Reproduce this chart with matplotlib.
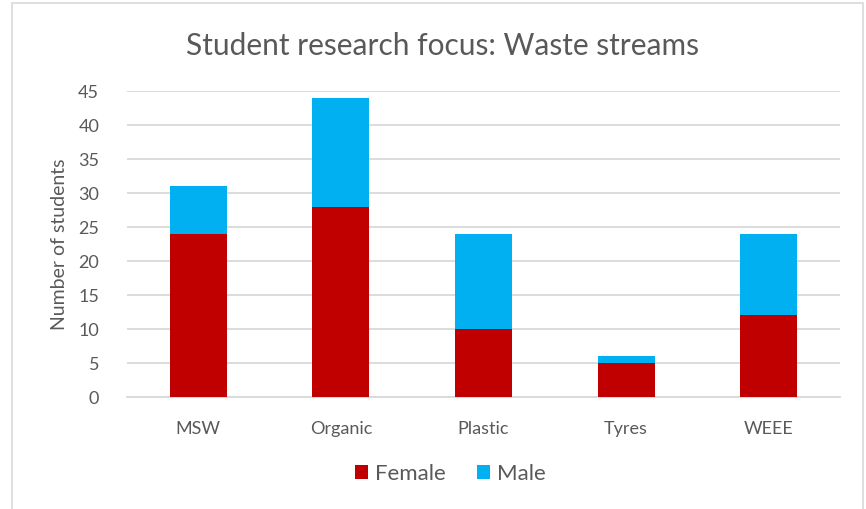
import matplotlib
matplotlib.use("Agg")
import matplotlib.pyplot as plt
from matplotlib.patches import Rectangle

categories = ["MSW", "Organic", "Plastic", "Tyres", "WEEE"]
female = [24, 28, 10, 5, 12]
male = [7, 16, 14, 1, 12]
yticks = [0, 5, 10, 15, 20, 25, 30, 35, 40, 45]

plt.rcParams['font.family'] = ['Lato', 'DejaVu Sans']
grey_text = "#595959"

fig = plt.figure(figsize=(8.66, 5.09), dpi=100)
ax = fig.add_axes([127 / 866, 0.22, 713 / 866, 0.601])

x = range(len(categories))
ax.bar(x, female, width=0.4, color="#c00000", label="Female", zorder=3)
ax.bar(x, male, width=0.4, bottom=female, color="#00b0f0", label="Male", zorder=3)

ax.set_xlim(-0.5, len(categories) - 0.5)
ax.set_ylim(0, 45)
ax.set_yticks(yticks)
ax.set_xticks(list(x))
ax.set_xticklabels(categories)
ax.grid(axis="y", color="#d9d9d9", linewidth=1.3, zorder=0)
ax.tick_params(axis="both", length=0, labelsize=13, labelcolor=grey_text)
ax.tick_params(axis="x", pad=17)
ax.tick_params(axis="y", pad=20)
for side in ["top", "right", "left"]:
    ax.spines[side].set_visible(False)
ax.spines["bottom"].set_color("#d9d9d9")
ax.spines["bottom"].set_linewidth(1.3)

ax.set_ylabel("Number of students", fontsize=14, color=grey_text, labelpad=7)
fig.text(0.511, 0.91, "Student research focus: Waste streams", ha="center", va="center",
         fontsize=21.5, color=grey_text)

leg = fig.legend(loc="center", bbox_to_anchor=(0.52, 0.069), ncol=2, frameon=False,
                 fontsize=16, handlelength=0.6, handleheight=0.6, handletextpad=0.3,
                 columnspacing=1.4)
for t in leg.get_texts():
    t.set_color(grey_text)

# chart border, open at the bottom edge of the image
fig.patches.append(Rectangle((12 / 866, -0.05), 851 / 866, 1.05 - 3 / 509,
                             transform=fig.transFigure, fill=False,
                             edgecolor="#d9d9d9", linewidth=1.2))

fig.savefig("out.png", dpi=100)
